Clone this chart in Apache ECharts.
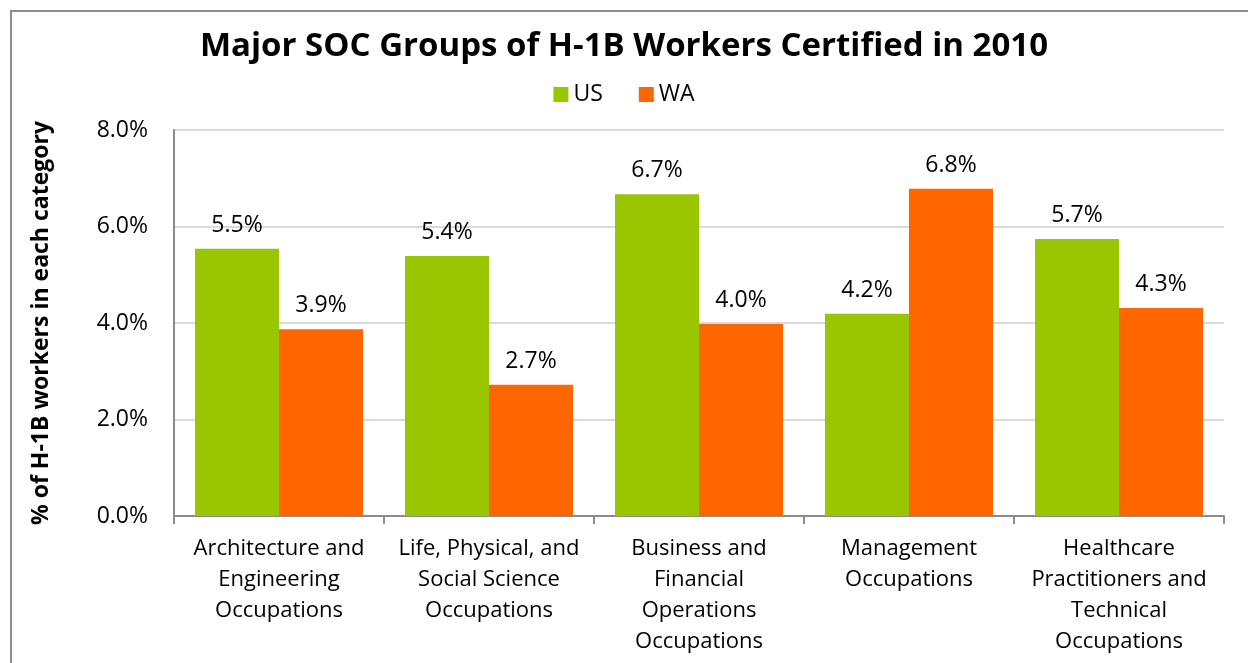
<!DOCTYPE html>
<html>
<head>
    <meta charset="utf-8">
    <title>ECharts</title>
    <script src="https://cdn.jsdelivr.net/npm/echarts@6/dist/echarts.min.js"></script>
</head>
<body style="margin:0;background:#fff;">
    <div id="main" style="width: 1248px;height:663px;"></div>
    <script type="text/javascript">
    var myChart = echarts.init(document.getElementById('main'));

    // categories (x axis)
    var categories = [
        'Architecture and\nEngineering\nOccupations',
        'Life, Physical, and\nSocial Science\nOccupations',
        'Business and\nFinancial\nOperations\nOccupations',
        'Management\nOccupations',
        'Healthcare\nPractitioners and\nTechnical\nOccupations'
    ];
    // % of H-1B workers
    var usValues = [5.54, 5.39, 6.67, 4.19, 5.74];
    var waValues = [3.87, 2.72, 3.98, 6.78, 4.31];
    var yTicks = [0, 2, 4, 6, 8];

    var font = '"Open Sans", "Noto Sans", sans-serif';

    var labelStyle = {
        show: true,
        position: 'top',
        distance: 12,
        fontFamily: font,
        fontSize: 23,
        color: '#000',
        formatter: function (p) { return p.value.toFixed(1) + '%'; }
    };

    var option = {
        textStyle: { fontFamily: font },
        graphic: [{
            type: 'rect',
            shape: { x: 11, y: 11, width: 1300, height: 700 },
            style: { fill: null, stroke: '#8c8c8c', lineWidth: 2 },
            silent: true
        }],
        title: {
            text: 'Major SOC Groups of H-1B Workers Certified in 2010',
            left: 'center',
            top: 25,
            textStyle: { fontFamily: font, fontSize: 33, fontWeight: 'bold', color: '#000' }
        },
        legend: {
            top: 78,
            left: 'center',
            itemWidth: 15,
            itemHeight: 15,
            itemGap: 36,
            icon: 'rect',
            textStyle: { fontFamily: font, fontSize: 23, color: '#000' },
            data: ['US', 'WA']
        },
        grid: {
            left: 174,
            right: 24,
            top: 130,
            bottom: 147
        },
        xAxis: {
            type: 'category',
            data: categories,
            axisLine: { lineStyle: { color: '#8c8c8c', width: 2 } },
            axisTick: { show: true, length: 8, lineStyle: { color: '#8c8c8c', width: 2 } },
            axisLabel: {
                interval: 0,
                margin: 17,
                fontFamily: font,
                fontSize: 22,
                lineHeight: 31,
                color: '#000'
            }
        },
        yAxis: {
            type: 'value',
            min: yTicks[0],
            max: yTicks[yTicks.length - 1],
            interval: 2,
            name: '% of H-1B workers in each category',
            nameLocation: 'middle',
            nameGap: 121,
            nameTextStyle: { fontFamily: font, fontSize: 23, fontWeight: 'bold', color: '#000' },
            axisLine: { show: true, lineStyle: { color: '#8c8c8c', width: 2 } },
            axisTick: { show: false },
            splitLine: { lineStyle: { color: '#d9d9d9', width: 2 } },
            axisLabel: {
                margin: 26,
                fontFamily: font,
                fontSize: 23,
                color: '#000',
                formatter: function (v) { return v.toFixed(1) + '%'; }
            }
        },
        series: [
            {
                name: 'US',
                type: 'bar',
                data: usValues,
                barGap: '0%',
                barCategoryGap: '20%',
                itemStyle: { color: '#99c600' },
                label: labelStyle
            },
            {
                name: 'WA',
                type: 'bar',
                data: waValues,
                itemStyle: { color: '#ff6600' },
                label: labelStyle
            }
        ]
    };

    myChart.setOption(option);
    </script>
</body>
</html>
